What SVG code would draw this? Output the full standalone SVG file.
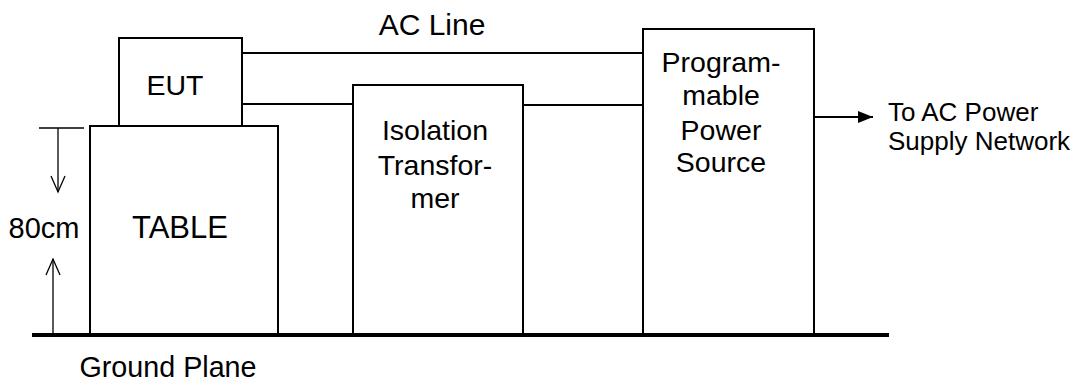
<svg xmlns="http://www.w3.org/2000/svg" width="1081" height="385" viewBox="0 0 1081 385">
<defs>
<style>
.box{fill:#fff;stroke:#000;stroke-width:2}
.ln{fill:none;stroke:#000;stroke-width:2}
.dim{fill:none;stroke:#000;stroke-width:1.3}
text{font-family:"Liberation Sans",Arial,sans-serif;fill:#000}
.t28{font-size:28.5px;text-anchor:middle}
</style>
<marker id="ah" markerWidth="16" markerHeight="14" refX="15" refY="7" orient="auto" markerUnits="userSpaceOnUse">
<path d="M0,1 L15,7 L0,13 Z" fill="#000"/>
</marker>
</defs>
<rect width="1081" height="385" fill="#fff"/>
<g id="connectors">
<line class="ln" x1="242" y1="53" x2="643" y2="53"/>
<line class="ln" x1="242" y1="104" x2="353" y2="104"/>
<line class="ln" x1="523" y1="105" x2="643" y2="105"/>
<line class="ln" x1="814" y1="117" x2="873" y2="117" marker-end="url(#ah)"/>
<line class="dim" x1="39" y1="128" x2="84" y2="128"/>
<line class="dim" x1="58" y1="128" x2="58" y2="192"/>
<polyline class="dim" points="51,176 58,192 65,176"/>
<line class="dim" x1="53" y1="259" x2="53" y2="334"/>
<polyline class="dim" points="46,275 53,259 60,275"/>
</g>
<g id="eut">
<rect class="box" x="119" y="38" width="123" height="88"/>
<text class="t28" x="175" y="95">EUT</text>
</g>
<g id="table">
<rect class="box" x="90" y="126" width="188" height="209"/>
<text x="180" y="238" font-size="31" text-anchor="middle">TABLE</text>
</g>
<g id="isolation">
<rect class="box" x="353" y="85" width="170" height="250"/>
<text class="t28" x="435" y="140">Isolation</text>
<text class="t28" x="435" y="175">Transfor-</text>
<text class="t28" x="435" y="208">mer</text>
</g>
<g id="power-source">
<rect class="box" x="643" y="29" width="171" height="306"/>
<text class="t28" x="721" y="72">Program-</text>
<text class="t28" x="721" y="105">mable</text>
<text class="t28" x="721" y="140">Power</text>
<text class="t28" x="721" y="172">Source</text>
</g>
<g id="ground">
<line x1="32" y1="335" x2="889" y2="335" stroke="#000" stroke-width="4"/>
</g>
<g id="labels">
<text x="432" y="35" font-size="30" text-anchor="middle">AC Line</text>
<text x="44" y="238" font-size="29" text-anchor="middle">80cm</text>
<text x="168" y="377" font-size="28.7" text-anchor="middle">Ground Plane</text>
<text x="888" y="121" font-size="26">To AC Power</text>
<text x="888" y="150" font-size="26">Supply Network</text>
</g>
</svg>
